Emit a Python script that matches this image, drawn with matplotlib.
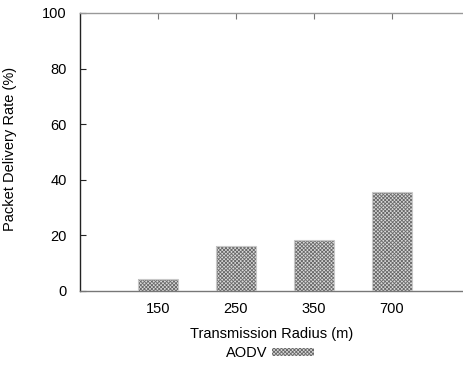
import matplotlib
matplotlib.use("Agg")
import matplotlib.pyplot as plt
import numpy as np

categories = ["150", "250", "350", "700"]
aodv = [4.2, 16.2, 18.4, 35.5]
yticks = [0, 20, 40, 60, 80, 100]

plt.rcParams['font.family'] = ['Liberation Sans', 'DejaVu Sans']
plt.rcParams['hatch.linewidth'] = 0.6

fig = plt.figure(figsize=(4.63, 3.66), dpi=100)
ax = fig.add_axes([80/463, 1 - 291/366, 1 - 80/463, (291 - 13)/366])

x = np.arange(1, len(categories) + 1)
ax.bar(x, aodv, width=0.51, color='#dadada', edgecolor='#6a6a6a', hatch='xxxxxxxxx',
       linewidth=0, label='AODV', zorder=2)
ax.bar(x, aodv, width=0.51, fill=False, edgecolor='#c8c8c8', linewidth=0.8, zorder=3)

ax.set_xlim(0, (463 - 80) / 78.0)
ax.set_ylim(0, 100)
ax.set_xticks(x)
ax.set_xticklabels(categories)
ax.set_yticks(yticks)

ax.spines['right'].set_visible(False)
ax.spines['top'].set_color('#999999')
ax.spines['bottom'].set_color('#777777')
ax.spines['left'].set_color('#222222')
for s in ax.spines.values():
    s.set_linewidth(1.0)

ax.tick_params(axis='y', direction='in', length=4, width=0.8, labelsize=10.5, pad=9.5, colors='#222222', labelcolor='black')
ax.tick_params(axis='x', direction='in', length=4, width=0.8, labelsize=10.5, pad=8, top=True, colors='#777777', labelcolor='black')

ax.set_ylabel('Packet Delivery Rate (%)', fontsize=10.5)
ax.yaxis.set_label_coords((17 - 80) / 383, (291 - 149) / 278)
ax.set_xlabel('Transmission Radius (m)', fontsize=10.5)
ax.xaxis.set_label_coords(0.5, -(334 - 291) / 278, transform=ax.transAxes)
ax.xaxis.label.set_verticalalignment('center')

leg = fig.legend(loc='center', bbox_to_anchor=(270/463, 1 - 353/366), frameon=False,
                 markerfirst=False, fontsize=10.5, handlelength=2.9, handleheight=0.5,
                 handletextpad=0.3, borderpad=0)

fig.savefig('out.png', dpi=100)
